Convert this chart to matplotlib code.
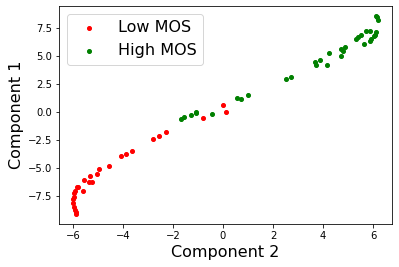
import matplotlib
matplotlib.use("Agg")
import matplotlib.pyplot as plt

low_x = [-0.79, 0.01, 0.13, -2.28, -2.55, -2.79, -3.63, -3.87, -4.08, -4.55, -4.97, -5.03,
         -5.31, -5.35, -5.25, -5.55, -5.81, -5.85, -5.59, -5.93, -5.95, -5.97, -6.01,
         -5.99, -5.95, -5.93, -5.89, -5.87]
low_y = [-0.57, 0.60, -0.03, -1.81, -2.17, -2.44, -3.48, -3.78, -3.96, -4.82, -5.12, -5.54,
         -5.74, -6.25, -6.25, -6.10, -6.67, -6.72, -7.08, -7.08, -7.25, -7.62, -7.80,
         -8.15, -8.51, -8.75, -8.93, -9.11]

high_x = [-1.67, -1.55, -1.27, -1.07, -1.07, -0.43, 0.57, 0.73, 1.01, 2.53, 2.73, 3.68,
          3.73, 3.89, 4.17, 4.25, 4.73, 4.73, 4.81, 4.89, 5.31, 5.39, 5.51, 5.65, 5.73,
          5.89, 5.88, 5.93, 6.04, 6.09, 6.13, 6.12, 6.16, 6.19]
high_y = [-0.65, -0.48, -0.30, -0.12, 0.00, -0.21, 1.22, 1.13, 1.49, 2.92, 3.10, 4.46,
          4.17, 4.61, 4.17, 5.24, 4.97, 5.60, 5.48, 5.78, 6.55, 6.67, 6.85, 6.04, 7.20,
          7.20, 6.31, 6.49, 6.76, 6.90, 7.14, 8.57, 8.45, 8.21]

W, H = 399, 267
fig = plt.figure(figsize=(W / 72, H / 72), dpi=72)
ax = fig.add_axes([59 / W, (H - 224) / H, 333 / W, 218 / H])

ax.scatter(low_x, low_y, s=16, color="red", label="Low MOS")
ax.scatter(high_x, high_y, s=16, color="green", label="High MOS")

ax.set_xlim(-6.56, 6.76)
ax.set_ylim(-10.0, 9.46)
ax.set_xticks([-6, -4, -2, 0, 2, 4, 6])
ax.set_yticks([-7.5, -5.0, -2.5, 0.0, 2.5, 5.0, 7.5])
ax.tick_params(labelsize=10)
ax.set_xlabel("Component 2", fontsize=16)
ax.set_ylabel("Component 1", fontsize=16)
ax.legend(loc="upper left", fontsize=16)

fig.savefig("out.png", dpi=72)
